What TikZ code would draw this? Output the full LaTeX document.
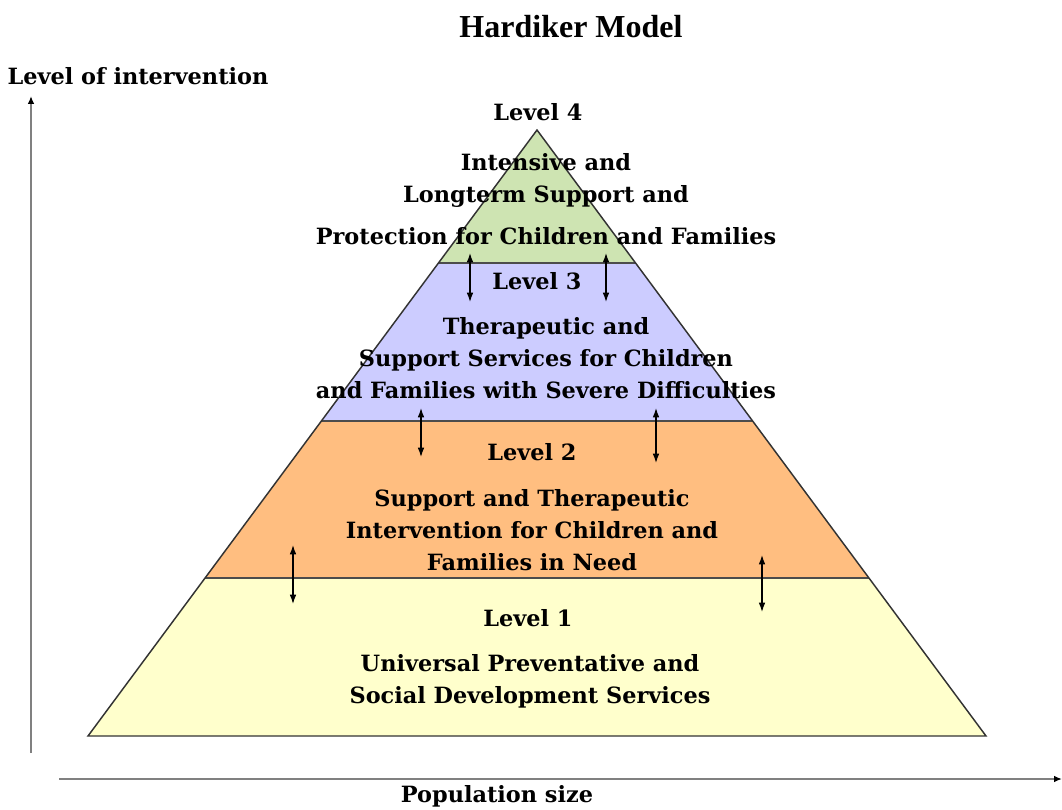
\documentclass[tikz,border=0pt]{standalone}
\usepackage{fontspec}
\setmainfont{Liberation Serif}
\newfontfamily\slabfont{DejaVu Serif}
\usetikzlibrary{arrows.meta}

\definecolor{levelfour}{RGB}{206,228,178}
\definecolor{levelthree}{RGB}{204,204,255}
\definecolor{leveltwo}{RGB}{255,190,128}
\definecolor{levelone}{RGB}{255,255,204}

\begin{document}
\begin{tikzpicture}[x=0.75pt, y=-0.75pt,
    every node/.style={font=\slabfont\bfseries\fontsize{16.8}{24}\selectfont, align=center, inner sep=0pt},
    band/.style={draw=black!70, line width=1.5pt},
    updown/.style={{Latex[length=7pt,width=5pt]}-{Latex[length=7pt,width=5pt]}, line width=0.9pt},
    axis/.style={draw=black!50, line width=1.5pt, -{Latex[length=6pt,width=5pt,black]}}]
    \useasboundingbox (0,0) rectangle (1062,809);

    % Pyramid corners
    \coordinate (apex) at (537,130);
    \coordinate (l43) at (438.5,263);  \coordinate (r43) at (635.5,263);
    \coordinate (l32) at (321.4,421);  \coordinate (r32) at (752.6,421);
    \coordinate (l21) at (205.1,578);  \coordinate (r21) at (868.9,578);
    \coordinate (base l) at (88,736);  \coordinate (base r) at (986,736);

    % Levels
    \fill[levelfour] (apex) -- (l43) -- (r43) -- cycle;
    \fill[levelthree] (l43) -- (l32) -- (r32) -- (r43) -- cycle;
    \fill[leveltwo] (l32) -- (l21) -- (r21) -- (r32) -- cycle;
    \fill[levelone] (l21) -- (base l) -- (base r) -- (r21) -- cycle;
    \draw[band] (l43) -- (r43);
    \draw[band] (l32) -- (r32);
    \draw[band] (l21) -- (r21);
    \draw[black!80, line width=1.1pt, line join=miter] (apex) -- (base l) -- (base r) -- cycle;

    % Links between levels
    \foreach \i/\x/\ya/\yb in {1/470/253/302, 2/606/253/302, 3/421/408/457,
                               4/656/408/463, 5/293/545/604, 6/762/555/612} {
        \coordinate (up\i) at (\x,\ya);
        \coordinate (down\i) at (\x,\yb);
        \draw[updown] (up\i) -- (down\i);
    }

    % Axes
    \coordinate (yfoot) at (31,753);  \coordinate (ytip) at (31,96);
    \coordinate (xfoot) at (59,779);  \coordinate (xtip) at (1062,779);
    \draw[axis] (yfoot) -- (ytip);
    \draw[axis] (xfoot) -- (xtip);

    % Texts
    \node[font=\rmfamily\bfseries\fontsize{24}{28}\selectfont] (title) at (571,27) {Hardiker Model};
    \node (yname) at (138,76) {Level of intervention};
    \node (xname) at (497,796) {Population size};

    \node (lvl4) at (538,112) {Level 4};
    \node (txt4) at (546,199) {Intensive and\\Longterm Support and\\[7pt]Protection for Children and Families};
    \node (lvl3) at (537,281) {Level 3};
    \node (txt3) at (546,358) {Therapeutic and\\Support Services for Children\\and Families with Severe Difficulties};
    \node (lvl2) at (532,452) {Level 2};
    \node (txt2) at (532,530) {Support and Therapeutic\\Intervention for Children and\\Families in Need};
    \node (lvl1) at (528,618) {Level 1};
    \node (txt1) at (530,681) {Universal Preventative and\\Social Development Services};
\end{tikzpicture}
\end{document}
